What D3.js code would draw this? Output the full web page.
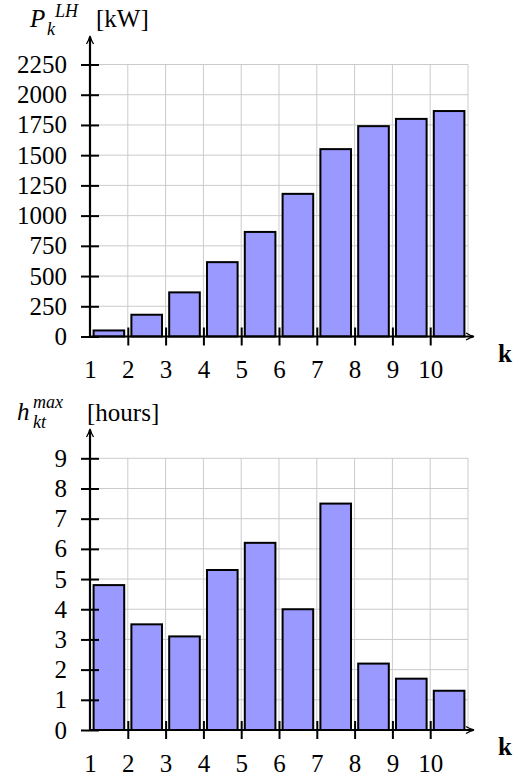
<!DOCTYPE html>
<meta charset="utf-8">
<script src="https://d3js.org/d3.v7.min.js"></script>
<style>
body{margin:0; background:#fff;}
.grid line{stroke:#cbcbcb; stroke-width:1;}
.bar{fill:#9999ff; stroke:#000; stroke-width:2;}
</style>
<div id="vis"></div>
<script>

// Data
var ks = [1, 2, 3, 4, 5, 6, 7, 8, 9, 10];
var powerLH = [50, 180, 365, 615, 865, 1180, 1550, 1740, 1800, 1865];
var hoursMax = [4.8, 3.5, 3.1, 5.3, 6.2, 4.0, 7.5, 2.2, 1.7, 1.3];
var powerTicks = [0, 250, 500, 750, 1000, 1250, 1500, 1750, 2000, 2250];
var hourTicks = [0, 1, 2, 3, 4, 5, 6, 7, 8, 9];

var serif = "'Liberation Serif', 'DejaVu Serif', serif";
var w = 522, h = 776;

var svg = d3.select("#vis").append("svg")
    .attr("width", w)
    .attr("height", h)
    .attr("font-family", serif);

// arrow head used on both axes
svg.append("defs").append("marker")
    .attr("id", "arrow")
    .attr("viewBox", "0 0 10 10")
    .attr("refX", 8).attr("refY", 5)
    .attr("markerWidth", 10).attr("markerHeight", 10)
    .attr("markerUnits", "userSpaceOnUse")
    .attr("orient", "auto")
  .append("path")
    .attr("d", "M1,1.5 Q5,4 9,5 Q5,6 1,8.5")
    .attr("fill", "none")
    .attr("stroke", "#000")
    .attr("stroke-width", 1.3);

function drawChart(opt) {
  var x = d3.scaleLinear().domain([1, 11]).range([90, 468]);
  var y = d3.scaleLinear().domain([0, opt.ymax]).range([opt.y0, opt.ytop]);
  var g = svg.append("g");

  // grid
  var grid = g.append("g").attr("class", "grid");
  grid.selectAll(".gy").data(opt.ticks.slice(1))
    .enter().append("line")
    .attr("x1", x(1)).attr("x2", x(11))
    .attr("y1", function(d) { return y(d); })
    .attr("y2", function(d) { return y(d); });
  grid.selectAll(".gx").data(d3.range(2, 12))
    .enter().append("line")
    .attr("x1", function(d) { return x(d); })
    .attr("x2", function(d) { return x(d); })
    .attr("y1", y(0)).attr("y2", y(opt.ymax));

  // x ticks (under the bars)
  var xAxis = g.append("g")
      .attr("transform", "translate(0," + y(0) + ")")
      .call(d3.axisBottom(x).tickValues(ks).tickFormat(d3.format("d")).tickSize(9).tickPadding(15));
  xAxis.attr("font-family", serif).attr("font-size", 25);
  xAxis.select(".domain").remove();
  xAxis.selectAll(".tick line")
      .attr("y1", -9).attr("y2", 9)
      .attr("stroke", "#000").attr("stroke-width", 2);
  xAxis.selectAll(".tick").filter(function(d) { return d === 1; }).select("line").remove();
  xAxis.selectAll("text").attr("fill", "#000");

  // bars
  var bw = (x(2) - x(1)) * 0.81;
  g.selectAll(".bar").data(opt.values)
    .enter().append("rect")
    .attr("class", "bar")
    .attr("x", function(d, i) { return x(ks[i] + 0.5) - bw / 2; })
    .attr("y", function(d) { return y(d); })
    .attr("width", bw)
    .attr("height", function(d) { return y(0) - y(d); });

  // y axis
  var yAxis = g.append("g")
      .attr("transform", "translate(" + x(1) + ",0)")
      .call(d3.axisLeft(y).tickValues(opt.ticks).tickFormat(d3.format("d")).tickSize(9).tickPadding(14));
  yAxis.attr("font-family", serif).attr("font-size", 25);
  yAxis.select(".domain").remove();
  yAxis.selectAll(".tick line")
      .attr("x1", 9).attr("x2", -9)
      .attr("stroke", "#000").attr("stroke-width", 2);
  yAxis.selectAll("text").attr("fill", "#000");

  // axis lines with arrows
  g.append("line")
    .attr("x1", x(1) - 1).attr("x2", 473)
    .attr("y1", y(0)).attr("y2", y(0))
    .attr("stroke", "#000").attr("stroke-width", 2.2)
    .attr("marker-end", "url(#arrow)");
  g.append("line")
    .attr("x1", x(1)).attr("x2", x(1))
    .attr("y1", y(0) + 1).attr("y2", opt.arrowTop)
    .attr("stroke", "#000").attr("stroke-width", 2.2)
    .attr("marker-end", "url(#arrow)");

  // k label
  g.append("text")
    .attr("x", 498).attr("y", y(0) + 25)
    .attr("font-size", 25)
    .attr("font-weight", "bold")
    .text("k");
  return g;
}

drawChart({values: powerLH, ticks: powerTicks, ymax: 2250, y0: 336.5, ytop: 64.5, arrowTop: 37});
drawChart({values: hoursMax, ticks: hourTicks, ymax: 9, y0: 730, ytop: 458.3, arrowTop: 430});

// y titles
var t1 = svg.append("g");
t1.append("text").attr("x", 30).attr("y", 27).attr("font-size", 25).attr("font-style", "italic").text("P");
t1.append("text").attr("x", 47).attr("y", 35).attr("font-size", 18).attr("font-style", "italic").text("k");
t1.append("text").attr("x", 55).attr("y", 17).attr("font-size", 18).attr("font-style", "italic").text("LH");
t1.append("text").attr("x", 96).attr("y", 27).attr("font-size", 25).text("[kW]");

var t2 = svg.append("g");
t2.append("text").attr("x", 17).attr("y", 420).attr("font-size", 25).attr("font-style", "italic").text("h");
t2.append("text").attr("x", 33).attr("y", 408).attr("font-size", 18).attr("font-style", "italic").text("max");
t2.append("text").attr("x", 33).attr("y", 428).attr("font-size", 18).attr("font-style", "italic").text("kt");
t2.append("text").attr("x", 87).attr("y", 421).attr("font-size", 25).text("[hours]");

</script>
